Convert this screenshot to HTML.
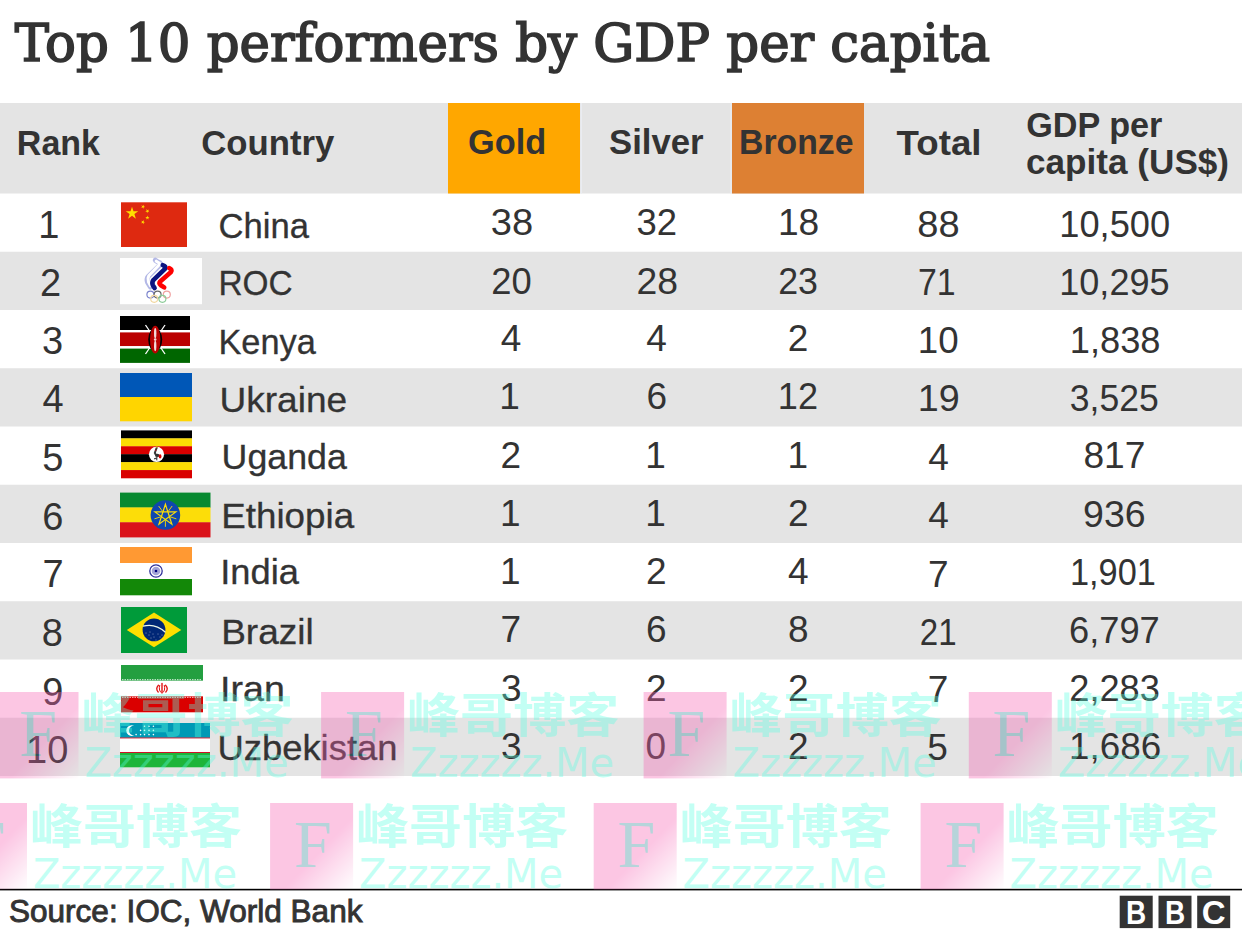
<!DOCTYPE html><html><head><meta charset="utf-8"><title>Top 10 performers by GDP per capita</title><style>html,body{margin:0;padding:0;background:#fff;width:1242px;height:933px;overflow:hidden}svg{display:block}text{white-space:pre}</style></head><body><svg width="1242" height="933" viewBox="0 0 1242 933"><defs><linearGradient id="pg" x1="0" y1="0" x2="1" y2="1"><stop offset="0" stop-color="#f763b4"/><stop offset="0.58" stop-color="#f763b4"/><stop offset="1" stop-color="#f763b4" stop-opacity="0"/></linearGradient></defs><rect x="0" y="103" width="1242" height="90.5" fill="#e4e4e4"/><rect x="448" y="103" width="132" height="90.5" fill="#ffa700"/><rect x="732" y="103" width="132" height="90.5" fill="#dd8033"/><rect x="580.6" y="103" width="1.2" height="90.5" fill="#eceef4"/><rect x="730.4" y="103" width="1.2" height="90.5" fill="#eceef4"/><rect x="0" y="251.75" width="1242" height="58.25" fill="#e4e4e4"/><rect x="0" y="368.25" width="1242" height="58.25" fill="#e4e4e4"/><rect x="0" y="484.75" width="1242" height="58.25" fill="#e4e4e4"/><rect x="0" y="601.25" width="1242" height="58.25" fill="#e4e4e4"/><rect x="0" y="717.75" width="1242" height="58.25" fill="#e4e4e4"/><rect x="121" y="202.3" width="66" height="44.7" fill="#de2910"/><polygon points="132.00,206.70 133.48,211.26 138.28,211.26 134.40,214.08 135.88,218.64 132.00,215.82 128.12,218.64 129.60,214.08 125.72,211.26 130.52,211.26" fill="#ffde00"/><polygon points="141.11,207.83 142.16,206.63 141.34,205.26 142.81,205.88 143.86,204.68 143.72,206.27 145.19,206.89 143.63,207.25 143.49,208.84 142.67,207.47" fill="#ffde00"/><polygon points="145.22,211.41 146.66,210.71 146.43,209.12 147.54,210.27 148.98,209.57 148.23,210.98 149.34,212.13 147.77,211.85 147.02,213.27 146.80,211.69" fill="#ffde00"/><polygon points="145.28,217.10 146.88,217.04 147.32,215.50 147.87,217.00 149.47,216.95 148.21,217.93 148.76,219.43 147.43,218.54 146.17,219.53 146.61,217.99" fill="#ffde00"/><polygon points="141.28,220.73 142.78,221.29 143.78,220.04 143.70,221.64 145.20,222.20 143.66,222.62 143.58,224.22 142.70,222.89 141.16,223.31 142.16,222.06" fill="#ffde00"/><rect x="120" y="258" width="82" height="46.2" fill="#fff"/><g fill="none" stroke-linejoin="round" stroke-linecap="round"><path d="M155.3,260.2 Q157.5,262 159.8,262.6 Q161,264 159.5,265.5 L148.2,276.5 Q146.3,279 147.6,282.5 L150.4,287" stroke="#b3b8e6" stroke-width="5.0"/><path d="M156.2,261.2 Q157.8,262.6 159.4,263.2 Q159.9,264.2 158.8,265.2 L148.8,275.8 Q147.3,278.6 148.4,281.8 L150.4,285.6" stroke="#fff" stroke-width="3.0"/><path d="M162.8,265.2 Q166.4,266.2 165.2,268.6 L153.6,279.8 Q151.6,282.2 152.8,285.2 L154.6,288" stroke="#0c1480" stroke-width="4.6"/><path d="M169.2,268.2 Q172.6,269.6 171,272 L160.2,281.4 Q158.6,283.4 160.8,285.2 L164.2,287.4" stroke="#ff0000" stroke-width="4.6"/></g><g fill="none" stroke-width="1.15"><circle cx="150.4" cy="294.6" r="3.5" stroke="#7a82cc"/><circle cx="157.6" cy="294.6" r="3.5" stroke="#666"/><circle cx="166.8" cy="294.6" r="3.5" stroke="#f0a0a0"/><circle cx="154.2" cy="298.8" r="3.5" stroke="#f2d8a0"/><circle cx="162.4" cy="298.8" r="3.5" stroke="#8ccc98"/></g><rect x="120" y="316.00" width="70" height="14.30" fill="#000"/><rect x="120" y="330.00" width="70" height="2.70" fill="#fff"/><rect x="120" y="332.40" width="70" height="14.00" fill="#bb0000"/><rect x="120" y="346.10" width="70" height="2.80" fill="#fff"/><rect x="120" y="348.60" width="70" height="14.30" fill="#006600"/><g stroke="#fff" stroke-width="1.3"><line x1="145.5" y1="325" x2="165" y2="354"/><line x1="165" y1="325" x2="145.5" y2="354"/></g><ellipse cx="155.2" cy="339.6" rx="7" ry="11.5" fill="#000"/><ellipse cx="155.2" cy="339.6" rx="5.2" ry="13.9" fill="#bb0000"/><g fill="#f4d8d8"><ellipse cx="155.2" cy="333.2" rx="1.2" ry="5.2"/><ellipse cx="155.2" cy="346" rx="1.2" ry="5.2"/><circle cx="155.2" cy="339.6" r="1.3"/></g><rect x="120" y="373.00" width="72" height="24.30" fill="#0057b7"/><rect x="120" y="397.00" width="72" height="24.30" fill="#ffd500"/><rect x="121" y="430.40" width="71" height="8.23" fill="#000"/><rect x="121" y="438.33" width="71" height="8.23" fill="#fcdc04"/><rect x="121" y="446.27" width="71" height="8.23" fill="#d90000"/><rect x="121" y="454.20" width="71" height="8.23" fill="#000"/><rect x="121" y="462.13" width="71" height="8.23" fill="#fcdc04"/><rect x="121" y="470.07" width="71" height="8.23" fill="#d90000"/><circle cx="156.5" cy="454.3" r="7.6" fill="#fff"/><path d="M156.7,447.8 L155.6,450.6 Q154.3,452.6 155.6,454.3" stroke="#3a3a3a" stroke-width="2" fill="none" stroke-linecap="round"/><ellipse cx="157.3" cy="455.4" rx="2.3" ry="1.7" fill="#333"/><ellipse cx="160.1" cy="456.4" rx="1.4" ry="2.1" fill="#d90000"/><path d="M156.9,456.8 L156.7,460.4 M154.1,458.9 L156.5,458.2" stroke="#444" stroke-width="1.2" fill="none"/><circle cx="156.9" cy="447.3" r="0.7" fill="#e8c000"/><circle cx="155.8" cy="450.2" r="0.6" fill="#d90000"/><rect x="120" y="492.60" width="90.5" height="15.13" fill="#078930"/><rect x="120" y="507.43" width="90.5" height="15.13" fill="#fcdd09"/><rect x="120" y="522.27" width="90.5" height="15.13" fill="#da121a"/><circle cx="165.4" cy="515" r="14.8" fill="#0f47af"/><polygon points="165.40,504.30 171.87,524.20 154.94,511.90 175.86,511.90 158.93,524.20" fill="none" stroke="#fcdd09" stroke-width="1.2" stroke-linejoin="miter"/><g stroke="#fcdd09" stroke-width="0.9"><line x1="168.34" y1="511.25" x2="172.16" y2="506.00"/><line x1="170.16" y1="516.85" x2="176.34" y2="518.85"/><line x1="165.40" y1="520.30" x2="165.40" y2="526.80"/><line x1="160.64" y1="516.85" x2="154.46" y2="518.85"/><line x1="162.46" y1="511.25" x2="158.64" y2="506.00"/></g><rect x="120" y="547.00" width="72" height="16.30" fill="#ff9933"/><rect x="120" y="563.00" width="72" height="16.30" fill="#ffffff"/><rect x="120" y="579.00" width="72" height="16.30" fill="#138808"/><circle cx="156" cy="571" r="6.2" fill="none" stroke="#30309a" stroke-width="1.3"/><circle cx="156" cy="571" r="4.3" fill="#a4a4d6"/><circle cx="156" cy="571" r="1.3" fill="#000080"/><rect x="121" y="607" width="66" height="46" fill="#009b3a"/><polygon points="126.8,630 154,612.4 181.3,630 154,647.2" fill="#fedf00"/><circle cx="154" cy="629.9" r="11.4" fill="#002776"/><path d="M143,626.2 Q155,622.8 165.4,632.2" stroke="#eef8ea" stroke-width="1.3" fill="none"/><g fill="#fff"><circle cx="146" cy="633" r="0.45"/><circle cx="149" cy="635" r="0.45"/><circle cx="150" cy="632" r="0.45"/><circle cx="153" cy="634" r="0.45"/><circle cx="154" cy="637" r="0.45"/><circle cx="158" cy="634" r="0.45"/><circle cx="160" cy="637" r="0.45"/><circle cx="162" cy="635" r="0.45"/><circle cx="156" cy="640" r="0.45"/><circle cx="151" cy="638" r="0.45"/></g><rect x="121" y="665.00" width="82" height="15.97" fill="#239f40"/><rect x="121" y="680.67" width="82" height="15.97" fill="#ffffff"/><rect x="121" y="696.33" width="82" height="15.97" fill="#da0000"/><g stroke="#fff" stroke-width="0.8" stroke-dasharray="1.5 1"><line x1="122" y1="679.67" x2="202" y2="679.67"/><line x1="122" y1="697.33" x2="202" y2="697.33"/></g><g fill="none" stroke="#e01010" stroke-linecap="round"><path d="M158.4,685.2 Q155.2,688.6 158.2,692" stroke-width="1.3"/><path d="M165.6,685.2 Q168.8,688.6 165.8,692" stroke-width="1.3"/><path d="M159.7,685.4 Q158.2,690.8 162,693.3 Q165.8,690.8 164.3,685.4" stroke-width="1.0"/><path d="M162,683.4 L162,692" stroke-width="1.4"/></g><rect x="120" y="723.00" width="90" height="14.80" fill="#0099b5"/><rect x="120" y="737.50" width="90" height="1.30" fill="#ce1126"/><rect x="120" y="738.50" width="90" height="13.80" fill="#ffffff"/><rect x="120" y="752.00" width="90" height="1.30" fill="#ce1126"/><rect x="120" y="753.00" width="90" height="14.30" fill="#1eb53a"/><circle cx="131.6" cy="730.6" r="5.3" fill="#fff"/><circle cx="133.9" cy="730.6" r="4.9" fill="#0099b5"/><g fill="#fff"><circle cx="144.5" cy="726.2" r="0.8"/><circle cx="149" cy="726.2" r="0.8"/><circle cx="153.4" cy="726.2" r="0.8"/><circle cx="140.6" cy="730.4" r="0.8"/><circle cx="144.5" cy="730.4" r="0.8"/><circle cx="149" cy="730.4" r="0.8"/><circle cx="153.4" cy="730.4" r="0.8"/><circle cx="136.1" cy="734.6" r="0.8"/><circle cx="140.6" cy="734.6" r="0.8"/><circle cx="144.5" cy="734.6" r="0.8"/><circle cx="149" cy="734.6" r="0.8"/><circle cx="153.4" cy="734.6" r="0.8"/></g><text x="14.8" y="60.6" font-family="'DejaVu Serif', 'Liberation Serif', serif" stroke="#333" stroke-width="1.7" font-size="52" font-weight="400" fill="#333333" textLength="975.39" lengthAdjust="spacingAndGlyphs">Top 10 performers by GDP per capita</text><text x="16.86" y="155.2" font-family="'Liberation Sans', Arial, sans-serif" font-size="35" font-weight="700" fill="#333333" textLength="83.12" lengthAdjust="spacingAndGlyphs">Rank</text><text x="201.21" y="155.3" font-family="'Liberation Sans', Arial, sans-serif" font-size="35" font-weight="700" fill="#333333" textLength="133.16" lengthAdjust="spacingAndGlyphs">Country</text><text x="468.02" y="154.4" font-family="'Liberation Sans', Arial, sans-serif" font-size="35" font-weight="700" fill="#333333" textLength="78.13" lengthAdjust="spacingAndGlyphs">Gold</text><text x="609.01" y="154.1" font-family="'Liberation Sans', Arial, sans-serif" font-size="35" font-weight="700" fill="#333333" textLength="94.62" lengthAdjust="spacingAndGlyphs">Silver</text><text x="739.07" y="154.1" font-family="'Liberation Sans', Arial, sans-serif" font-size="35" font-weight="700" fill="#333333" textLength="114.38" lengthAdjust="spacingAndGlyphs">Bronze</text><text x="896.6" y="154.5" font-family="'Liberation Sans', Arial, sans-serif" font-size="35" font-weight="700" fill="#333333" textLength="84.91" lengthAdjust="spacingAndGlyphs">Total</text><text x="1026.23" y="137.3" font-family="'Liberation Sans', Arial, sans-serif" font-size="35" font-weight="700" fill="#333333" textLength="136.1" lengthAdjust="spacingAndGlyphs">GDP per</text><text x="1026.0" y="174.3" font-family="'Liberation Sans', Arial, sans-serif" font-size="35" font-weight="700" fill="#333333" textLength="203.07" lengthAdjust="spacingAndGlyphs">capita (US$)</text><text x="38.25" y="237.5" font-family="'Liberation Sans', Arial, sans-serif" font-size="38" font-weight="400" fill="#333333">1</text><text x="218.51" y="237.5" font-family="'Liberation Sans', Arial, sans-serif" stroke="#333" stroke-width="0.3" font-size="35" font-weight="400" fill="#333333" textLength="90.46" lengthAdjust="spacingAndGlyphs">China</text><text x="490.72" y="235.4" font-family="'Liberation Sans', Arial, sans-serif" font-size="37" font-weight="400" fill="#333333" textLength="42.35" lengthAdjust="spacingAndGlyphs">38</text><text x="636.41" y="235.4" font-family="'Liberation Sans', Arial, sans-serif" font-size="37" font-weight="400" fill="#333333" textLength="40.54" lengthAdjust="spacingAndGlyphs">32</text><text x="777.94" y="235.4" font-family="'Liberation Sans', Arial, sans-serif" font-size="37" font-weight="400" fill="#333333" textLength="41.29" lengthAdjust="spacingAndGlyphs">18</text><text x="917.22" y="237.3" font-family="'Liberation Sans', Arial, sans-serif" font-size="37" font-weight="400" fill="#333333" textLength="42.35" lengthAdjust="spacingAndGlyphs">88</text><text x="1059.29" y="237.3" font-family="'Liberation Sans', Arial, sans-serif" font-size="37" font-weight="400" fill="#333333" textLength="110.82" lengthAdjust="spacingAndGlyphs">10,500</text><text x="40.05" y="296.4" font-family="'Liberation Sans', Arial, sans-serif" font-size="38" font-weight="400" fill="#333333">2</text><text x="218.49" y="295.4" font-family="'Liberation Sans', Arial, sans-serif" stroke="#333" stroke-width="0.3" font-size="35" font-weight="400" fill="#333333" textLength="74.23" lengthAdjust="spacingAndGlyphs">ROC</text><text x="491.17" y="293.5" font-family="'Liberation Sans', Arial, sans-serif" font-size="37" font-weight="400" fill="#333333" textLength="40.45" lengthAdjust="spacingAndGlyphs">20</text><text x="636.54" y="293.5" font-family="'Liberation Sans', Arial, sans-serif" font-size="37" font-weight="400" fill="#333333" textLength="41.5" lengthAdjust="spacingAndGlyphs">28</text><text x="778.18" y="293.5" font-family="'Liberation Sans', Arial, sans-serif" font-size="37" font-weight="400" fill="#333333" textLength="39.79" lengthAdjust="spacingAndGlyphs">23</text><text x="918.03" y="295.2" font-family="'Liberation Sans', Arial, sans-serif" font-size="37" font-weight="400" fill="#333333" textLength="37.66" lengthAdjust="spacingAndGlyphs">71</text><text x="1059.25" y="295.2" font-family="'Liberation Sans', Arial, sans-serif" font-size="37" font-weight="400" fill="#333333" textLength="110.31" lengthAdjust="spacingAndGlyphs">10,295</text><text x="42.05" y="354.2" font-family="'Liberation Sans', Arial, sans-serif" font-size="38" font-weight="400" fill="#333333">3</text><text x="218.44" y="353.7" font-family="'Liberation Sans', Arial, sans-serif" stroke="#333" stroke-width="0.3" font-size="35" font-weight="400" fill="#333333" textLength="97.44" lengthAdjust="spacingAndGlyphs">Kenya</text><text x="500.8" y="351.0" font-family="'Liberation Sans', Arial, sans-serif" font-size="37" font-weight="400" fill="#333333">4</text><text x="646.3" y="351.0" font-family="'Liberation Sans', Arial, sans-serif" font-size="37" font-weight="400" fill="#333333">4</text><text x="787.8" y="351.0" font-family="'Liberation Sans', Arial, sans-serif" font-size="37" font-weight="400" fill="#333333">2</text><text x="917.76" y="353.1" font-family="'Liberation Sans', Arial, sans-serif" font-size="37" font-weight="400" fill="#333333" textLength="40.86" lengthAdjust="spacingAndGlyphs">10</text><text x="1069.84" y="353.1" font-family="'Liberation Sans', Arial, sans-serif" font-size="37" font-weight="400" fill="#333333" textLength="90.7" lengthAdjust="spacingAndGlyphs">1,838</text><text x="42.6" y="412.2" font-family="'Liberation Sans', Arial, sans-serif" font-size="38" font-weight="400" fill="#333333">4</text><text x="219.48" y="411.6" font-family="'Liberation Sans', Arial, sans-serif" stroke="#333" stroke-width="0.3" font-size="35" font-weight="400" fill="#333333" textLength="127.67" lengthAdjust="spacingAndGlyphs">Ukraine</text><text x="499.2" y="409.2" font-family="'Liberation Sans', Arial, sans-serif" font-size="37" font-weight="400" fill="#333333">1</text><text x="646.4" y="409.2" font-family="'Liberation Sans', Arial, sans-serif" font-size="37" font-weight="400" fill="#333333">6</text><text x="777.8" y="409.2" font-family="'Liberation Sans', Arial, sans-serif" font-size="37" font-weight="400" fill="#333333" textLength="40.19" lengthAdjust="spacingAndGlyphs">12</text><text x="917.71" y="411.0" font-family="'Liberation Sans', Arial, sans-serif" font-size="37" font-weight="400" fill="#333333" textLength="41.95" lengthAdjust="spacingAndGlyphs">19</text><text x="1069.84" y="411.0" font-family="'Liberation Sans', Arial, sans-serif" font-size="37" font-weight="400" fill="#333333" textLength="88.92" lengthAdjust="spacingAndGlyphs">3,525</text><text x="42.2" y="471.4" font-family="'Liberation Sans', Arial, sans-serif" font-size="38" font-weight="400" fill="#333333">5</text><text x="221.56" y="469.0" font-family="'Liberation Sans', Arial, sans-serif" stroke="#333" stroke-width="0.3" font-size="35" font-weight="400" fill="#333333" textLength="125.3" lengthAdjust="spacingAndGlyphs">Uganda</text><text x="500.5" y="467.8" font-family="'Liberation Sans', Arial, sans-serif" font-size="37" font-weight="400" fill="#333333">2</text><text x="645.3" y="467.8" font-family="'Liberation Sans', Arial, sans-serif" font-size="37" font-weight="400" fill="#333333">1</text><text x="787.6" y="467.8" font-family="'Liberation Sans', Arial, sans-serif" font-size="37" font-weight="400" fill="#333333">1</text><text x="928.2" y="469.5" font-family="'Liberation Sans', Arial, sans-serif" font-size="37" font-weight="400" fill="#333333">4</text><text x="1083.4" y="468.3" font-family="'Liberation Sans', Arial, sans-serif" font-size="37" font-weight="400" fill="#333333" textLength="61.99" lengthAdjust="spacingAndGlyphs">817</text><text x="42.2" y="529.7" font-family="'Liberation Sans', Arial, sans-serif" font-size="38" font-weight="400" fill="#333333">6</text><text x="221.2" y="528.3" font-family="'Liberation Sans', Arial, sans-serif" stroke="#333" stroke-width="0.3" font-size="35" font-weight="400" fill="#333333" textLength="132.94" lengthAdjust="spacingAndGlyphs">Ethiopia</text><text x="500.0" y="525.9" font-family="'Liberation Sans', Arial, sans-serif" font-size="37" font-weight="400" fill="#333333">1</text><text x="645.3" y="525.9" font-family="'Liberation Sans', Arial, sans-serif" font-size="37" font-weight="400" fill="#333333">1</text><text x="788.1" y="525.9" font-family="'Liberation Sans', Arial, sans-serif" font-size="37" font-weight="400" fill="#333333">2</text><text x="928.2" y="528.2" font-family="'Liberation Sans', Arial, sans-serif" font-size="37" font-weight="400" fill="#333333">4</text><text x="1083.14" y="526.7" font-family="'Liberation Sans', Arial, sans-serif" font-size="37" font-weight="400" fill="#333333" textLength="62.51" lengthAdjust="spacingAndGlyphs">936</text><text x="42.4" y="586.8" font-family="'Liberation Sans', Arial, sans-serif" font-size="38" font-weight="400" fill="#333333">7</text><text x="220.19" y="583.9" font-family="'Liberation Sans', Arial, sans-serif" stroke="#333" stroke-width="0.3" font-size="35" font-weight="400" fill="#333333" textLength="78.76" lengthAdjust="spacingAndGlyphs">India</text><text x="500.0" y="584.1" font-family="'Liberation Sans', Arial, sans-serif" font-size="37" font-weight="400" fill="#333333">1</text><text x="646.0" y="584.1" font-family="'Liberation Sans', Arial, sans-serif" font-size="37" font-weight="400" fill="#333333">2</text><text x="788.1" y="584.1" font-family="'Liberation Sans', Arial, sans-serif" font-size="37" font-weight="400" fill="#333333">4</text><text x="928.0" y="586.6" font-family="'Liberation Sans', Arial, sans-serif" font-size="37" font-weight="400" fill="#333333">7</text><text x="1069.94" y="585.4" font-family="'Liberation Sans', Arial, sans-serif" font-size="37" font-weight="400" fill="#333333" textLength="85.92" lengthAdjust="spacingAndGlyphs">1,901</text><text x="41.85" y="645.8" font-family="'Liberation Sans', Arial, sans-serif" font-size="38" font-weight="400" fill="#333333">8</text><text x="221.18" y="644.0" font-family="'Liberation Sans', Arial, sans-serif" stroke="#333" stroke-width="0.3" font-size="35" font-weight="400" fill="#333333" textLength="92.59" lengthAdjust="spacingAndGlyphs">Brazil</text><text x="500.5" y="642.2" font-family="'Liberation Sans', Arial, sans-serif" font-size="37" font-weight="400" fill="#333333">7</text><text x="646.0" y="642.2" font-family="'Liberation Sans', Arial, sans-serif" font-size="37" font-weight="400" fill="#333333">6</text><text x="788.1" y="642.2" font-family="'Liberation Sans', Arial, sans-serif" font-size="37" font-weight="400" fill="#333333">8</text><text x="919.86" y="644.6" font-family="'Liberation Sans', Arial, sans-serif" font-size="37" font-weight="400" fill="#333333" textLength="36.81" lengthAdjust="spacingAndGlyphs">21</text><text x="1069.02" y="643.3" font-family="'Liberation Sans', Arial, sans-serif" font-size="37" font-weight="400" fill="#333333" textLength="90.73" lengthAdjust="spacingAndGlyphs">6,797</text><text x="42.2" y="704.8" font-family="'Liberation Sans', Arial, sans-serif" font-size="38" font-weight="400" fill="#333333">9</text><text x="220.08" y="701.0" font-family="'Liberation Sans', Arial, sans-serif" stroke="#333" stroke-width="0.3" font-size="35" font-weight="400" fill="#333333" textLength="64.8" lengthAdjust="spacingAndGlyphs">Iran</text><text x="501.0" y="700.9" font-family="'Liberation Sans', Arial, sans-serif" font-size="37" font-weight="400" fill="#333333">3</text><text x="646.0" y="700.9" font-family="'Liberation Sans', Arial, sans-serif" font-size="37" font-weight="400" fill="#333333">2</text><text x="788.1" y="700.9" font-family="'Liberation Sans', Arial, sans-serif" font-size="37" font-weight="400" fill="#333333">2</text><text x="927.8" y="702.4" font-family="'Liberation Sans', Arial, sans-serif" font-size="37" font-weight="400" fill="#333333">7</text><text x="1069.27" y="701.2" font-family="'Liberation Sans', Arial, sans-serif" font-size="37" font-weight="400" fill="#333333" textLength="90.62" lengthAdjust="spacingAndGlyphs">2,283</text><text x="26.03" y="763.0" font-family="'Liberation Sans', Arial, sans-serif" font-size="38" font-weight="400" fill="#333333">10</text><text x="217.42" y="760.3" font-family="'Liberation Sans', Arial, sans-serif" stroke="#333" stroke-width="0.3" font-size="35" font-weight="400" fill="#333333" textLength="180.1" lengthAdjust="spacingAndGlyphs">Uzbekistan</text><text x="501.0" y="759.0" font-family="'Liberation Sans', Arial, sans-serif" font-size="37" font-weight="400" fill="#333333">3</text><text x="645.5" y="759.0" font-family="'Liberation Sans', Arial, sans-serif" font-size="37" font-weight="400" fill="#333333">0</text><text x="788.1" y="759.0" font-family="'Liberation Sans', Arial, sans-serif" font-size="37" font-weight="400" fill="#333333">2</text><text x="927.3" y="759.8" font-family="'Liberation Sans', Arial, sans-serif" font-size="37" font-weight="400" fill="#333333">5</text><text x="1069.01" y="758.6" font-family="'Liberation Sans', Arial, sans-serif" font-size="37" font-weight="400" fill="#333333" textLength="92.16" lengthAdjust="spacingAndGlyphs">1,686</text><text x="8.98" y="922" font-family="'Liberation Sans', Arial, sans-serif" stroke="#333" stroke-width="0.9" font-size="31" font-weight="400" fill="#333333" textLength="353.51" lengthAdjust="spacingAndGlyphs">Source: IOC, World Bank</text><rect x="0" y="888.8" width="1242" height="1.6" fill="#000"/><rect x="1119.7" y="895.7" width="33" height="32.4" fill="#333"/><text x="1136.2" y="923.7" text-anchor="middle" font-family="Liberation Sans, Arial, sans-serif" font-weight="700" font-size="33" fill="#fff" textLength="20.2" lengthAdjust="spacingAndGlyphs">B</text><rect x="1158.5" y="895.7" width="33" height="32.4" fill="#333"/><text x="1175.0" y="923.7" text-anchor="middle" font-family="Liberation Sans, Arial, sans-serif" font-weight="700" font-size="33" fill="#fff" textLength="20.2" lengthAdjust="spacingAndGlyphs">B</text><rect x="1197.2" y="895.7" width="33" height="32.4" fill="#333"/><text x="1213.7" y="923.7" text-anchor="middle" font-family="Liberation Sans, Arial, sans-serif" font-weight="700" font-size="33" fill="#fff">C</text><g opacity="0.36"><rect x="-4.5" y="692" width="83" height="86.4" fill="url(#pg)"/><text x="19.3" y="756.4" font-family="Liberation Serif, serif" font-size="68" fill="#378a9b">F</text><text transform="translate(81.5 732.4) scale(1.02 0.9)" x="0" y="0" font-family="Liberation Sans, Noto Sans CJK SC, sans-serif" font-size="52" font-weight="700" fill="#5cffe2">峰哥博客</text><text x="84.4" y="777.2" font-family="DejaVu Sans, Liberation Sans, sans-serif" font-size="40" fill="#5cffe2">Zzzzzz.Me</text></g><g opacity="0.36"><rect x="321.1" y="692" width="83" height="86.4" fill="url(#pg)"/><text x="344.90000000000003" y="756.4" font-family="Liberation Serif, serif" font-size="68" fill="#378a9b">F</text><text transform="translate(407.1 732.4) scale(1.02 0.9)" x="0" y="0" font-family="Liberation Sans, Noto Sans CJK SC, sans-serif" font-size="52" font-weight="700" fill="#5cffe2">峰哥博客</text><text x="410.0" y="777.2" font-family="DejaVu Sans, Liberation Sans, sans-serif" font-size="40" fill="#5cffe2">Zzzzzz.Me</text></g><g opacity="0.36"><rect x="643.5999999999999" y="692" width="83" height="86.4" fill="url(#pg)"/><text x="667.3999999999999" y="756.4" font-family="Liberation Serif, serif" font-size="68" fill="#378a9b">F</text><text transform="translate(729.5999999999999 732.4) scale(1.02 0.9)" x="0" y="0" font-family="Liberation Sans, Noto Sans CJK SC, sans-serif" font-size="52" font-weight="700" fill="#5cffe2">峰哥博客</text><text x="732.4999999999999" y="777.2" font-family="DejaVu Sans, Liberation Sans, sans-serif" font-size="40" fill="#5cffe2">Zzzzzz.Me</text></g><g opacity="0.36"><rect x="968.8" y="692" width="83" height="86.4" fill="url(#pg)"/><text x="992.5999999999999" y="756.4" font-family="Liberation Serif, serif" font-size="68" fill="#378a9b">F</text><text transform="translate(1054.8 732.4) scale(1.02 0.9)" x="0" y="0" font-family="Liberation Sans, Noto Sans CJK SC, sans-serif" font-size="52" font-weight="700" fill="#5cffe2">峰哥博客</text><text x="1057.7" y="777.2" font-family="DejaVu Sans, Liberation Sans, sans-serif" font-size="40" fill="#5cffe2">Zzzzzz.Me</text></g><g opacity="0.36"><rect x="-56.0" y="803" width="83" height="86.4" fill="url(#pg)"/><text x="-32.2" y="867.4" font-family="Liberation Serif, serif" font-size="68" fill="#378a9b">F</text><text transform="translate(30.0 843.4) scale(1.02 0.9)" x="0" y="0" font-family="Liberation Sans, Noto Sans CJK SC, sans-serif" font-size="52" font-weight="700" fill="#5cffe2">峰哥博客</text><text x="32.900000000000006" y="888.2" font-family="DejaVu Sans, Liberation Sans, sans-serif" font-size="40" fill="#5cffe2">Zzzzzz.Me</text></g><g opacity="0.36"><rect x="270.1" y="803" width="83" height="86.4" fill="url(#pg)"/><text x="293.90000000000003" y="867.4" font-family="Liberation Serif, serif" font-size="68" fill="#378a9b">F</text><text transform="translate(356.1 843.4) scale(1.02 0.9)" x="0" y="0" font-family="Liberation Sans, Noto Sans CJK SC, sans-serif" font-size="52" font-weight="700" fill="#5cffe2">峰哥博客</text><text x="359.0" y="888.2" font-family="DejaVu Sans, Liberation Sans, sans-serif" font-size="40" fill="#5cffe2">Zzzzzz.Me</text></g><g opacity="0.36"><rect x="593.6999999999999" y="803" width="83" height="86.4" fill="url(#pg)"/><text x="617.4999999999999" y="867.4" font-family="Liberation Serif, serif" font-size="68" fill="#378a9b">F</text><text transform="translate(679.6999999999999 843.4) scale(1.02 0.9)" x="0" y="0" font-family="Liberation Sans, Noto Sans CJK SC, sans-serif" font-size="52" font-weight="700" fill="#5cffe2">峰哥博客</text><text x="682.5999999999999" y="888.2" font-family="DejaVu Sans, Liberation Sans, sans-serif" font-size="40" fill="#5cffe2">Zzzzzz.Me</text></g><g opacity="0.36"><rect x="920.5999999999999" y="803" width="83" height="86.4" fill="url(#pg)"/><text x="944.3999999999999" y="867.4" font-family="Liberation Serif, serif" font-size="68" fill="#378a9b">F</text><text transform="translate(1006.5999999999999 843.4) scale(1.02 0.9)" x="0" y="0" font-family="Liberation Sans, Noto Sans CJK SC, sans-serif" font-size="52" font-weight="700" fill="#5cffe2">峰哥博客</text><text x="1009.4999999999999" y="888.2" font-family="DejaVu Sans, Liberation Sans, sans-serif" font-size="40" fill="#5cffe2">Zzzzzz.Me</text></g></svg></body></html>
